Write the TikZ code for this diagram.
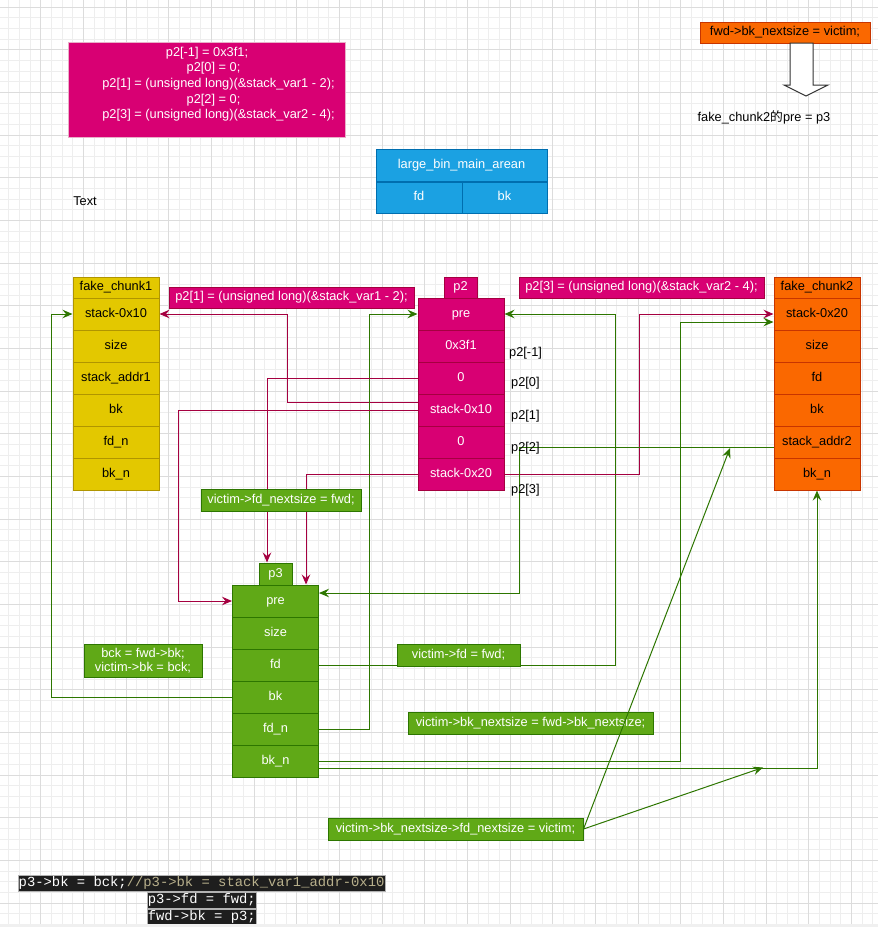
\documentclass[tikz,border=0pt]{standalone}
\usepackage{fontspec}
\setmainfont{Liberation Sans}
\setmonofont{Liberation Mono}
\newfontfamily\cjk{Noto Sans CJK SC}
\usetikzlibrary{arrows.meta,calc}
\definecolor{magF}{HTML}{D80073}\definecolor{magD}{HTML}{A50040}
\definecolor{magL}{HTML}{E8B0C8}
\definecolor{yelF}{HTML}{E3C800}\definecolor{yelD}{HTML}{B09500}
\definecolor{orgF}{HTML}{FA6800}\definecolor{orgD}{HTML}{C73500}
\definecolor{grnF}{HTML}{60A917}\definecolor{grnD}{HTML}{2D7600}
\definecolor{bluF}{HTML}{1BA1E2}\definecolor{bluD}{HTML}{006EAF}
\definecolor{codebg}{HTML}{1E1E1E}\definecolor{cmt}{HTML}{B8B08C}
\definecolor{gmin}{HTML}{EEEEEE}\definecolor{gmaj}{HTML}{DCDCDC}
\newcommand\dfont{\fontsize{12.8}{15}\selectfont}
\pgfdeclarelayer{bg}\pgfdeclarelayer{edges}\pgfdeclarelayer{front}
\pgfsetlayers{bg,edges,main,front}
\tikzset{
  cell/.style={draw, rectangle, inner sep=0pt, minimum width=86pt, minimum height=32pt,
    line width=1pt, font=\dfont, text height=9.2pt, text depth=2.6pt},
  yel/.style={cell, fill=yelF, draw=yelD, text=black},
  mag/.style={cell, fill=magF, draw=magD, text=white},
  org/.style={cell, fill=orgF, draw=orgD, text=black},
  grn/.style={cell, fill=grnF, draw=grnD, text=white},
  blu/.style={cell, fill=bluF, draw=bluD, text=white},
  hdr/.style={minimum height=21pt},
  plain/.style={inner sep=0pt, font=\dfont, text=black, text height=9.2pt, text depth=2.6pt},
  code/.style={fill=codebg, draw=gray!60, line width=0.5pt, inner xsep=0.5pt, inner ysep=0pt,
    text height=11.5pt, text depth=4pt, font=\ttfamily\fontsize{13.85}{16}\selectfont, text=white},
  arr/.style={-{Stealth[length=10pt,width=8.5pt,inset=3.5pt]}},
  mline/.style={draw=magD, line width=1pt, arr},
  gline/.style={draw=grnD, line width=1pt, arr},
  gplain/.style={draw=grnD, line width=1pt}
}
\begin{document}
\begin{tikzpicture}[x=1pt,y=-1pt]
\useasboundingbox (0,0) rectangle (878,927);
\begin{pgfonlayer}{bg}
\fill[white] (0,0) rectangle (878,927);
\foreach \i in {0,...,82} \draw[gmin, line width=0.8pt] ({8.6+\i*10.667},0) -- ({8.6+\i*10.667},927);
\foreach \i in {0,...,87} \draw[gmin, line width=0.8pt] (0,{-3.77+\i*10.667}) -- (878,{-3.77+\i*10.667});
\foreach \i in {0,...,21} \draw[gmaj, line width=0.8pt] ({-2.07+\i*42.667},0) -- ({-2.07+\i*42.667},927);
\foreach \i in {0,...,22} \draw[gmaj, line width=0.8pt] (0,{6.9+\i*42.667}) -- (878,{6.9+\i*42.667});
\end{pgfonlayer}

% top-left code box
\node[mag, draw=magL, minimum width=277pt, minimum height=95pt] (tl) at (206.5,89.5) {};
\node[plain, text=white] (tl1) at (207,53) {p2[-1] = 0x3f1;};
\node[plain, text=white] (tl2) at (213.5,68.5) {p2[0] = 0;};
\node[plain, text=white] (tl3) at (218.5,84) {p2[1] = (unsigned long)(\&stack\_var1 - 2);};
\node[plain, text=white] (tl4) at (213.5,100) {p2[2] = 0;};
\node[plain, text=white] (tl5) at (218.5,115.5) {p2[3] = (unsigned long)(\&stack\_var2 - 4);};

% top-right
\node[org, minimum width=170pt, minimum height=21pt] (fbk) at (785,32.5) {fwd->bk\_nextsize = victim;};
\draw[fill=white, draw=black!80, line width=1pt] (790,43) -- (813,43) -- (813,85) -- (828,85) -- (806,96) -- (784,85) -- (790,85) -- cycle;
\node[plain] (fc2pre) at (764,118) {fake\_chunk2{\cjk 的}pre = p3};

% large bin
\node[blu, minimum width=171pt] (lb) at (461.5,165.5) {large\_bin\_main\_arean};
\node[blu, minimum height=31pt] (lbfd) at (419,197.5) {fd};
\node[blu, minimum width=85pt, minimum height=31pt] (lbbk) at (504.5,197.5) {bk};

\node[plain] (txt) at (85,202) {Text};

% fake_chunk1
\node[yel, hdr] (fc1h) at (116,287.5) {fake\_chunk1};
\node[yel] (fc1r1) at (116,314) {stack-0x10};
\node[yel] (fc1r2) at (116,346) {size};
\node[yel] (fc1r3) at (116,378) {stack\_addr1};
\node[yel] (fc1r4) at (116,410) {bk};
\node[yel] (fc1r5) at (116,442) {fd\_n};
\node[yel] (fc1r6) at (116,474) {bk\_n};

% p2
\node[mag, hdr, minimum width=33pt] (p2h) at (460.5,287.5) {p2};
\node[mag] (p2r1) at (461,314) {pre};
\node[mag] (p2r2) at (461,346) {0x3f1};
\node[mag] (p2r3) at (461,378) {0};
\node[mag] (p2r4) at (461,410) {stack-0x10};
\node[mag] (p2r5) at (461,442) {0};
\node[mag] (p2r6) at (461,474) {stack-0x20};
\node[plain, anchor=west] (i1) at (509,353) {p2[-1]};
\node[plain, anchor=west] (i2) at (511,383.5) {p2[0]};
\node[plain, anchor=west] (i3) at (511,416) {p2[1]};
\node[plain, anchor=west] (i4) at (511,448) {p2[2]};
\node[plain, anchor=west] (i5) at (511,490) {p2[3]};

% fake_chunk2
\node[org, hdr] (fc2h) at (817,287.5) {fake\_chunk2};
\node[org] (fc2r1) at (817,314) {stack-0x20};
\node[org] (fc2r2) at (817,346) {size};
\node[org] (fc2r3) at (817,378) {fd};
\node[org] (fc2r4) at (817,410) {bk};
\node[org] (fc2r5) at (817,442) {stack\_addr2};
\node[org] (fc2r6) at (817,474) {bk\_n};

% p3
\node[grn, minimum width=33pt, minimum height=22pt] (p3h) at (275.5,574) {p3};
\node[grn] (p3r1) at (275.5,601) {pre};
\node[grn] (p3r2) at (275.5,633) {size};
\node[grn] (p3r3) at (275.5,665) {fd};
\node[grn] (p3r4) at (275.5,697) {bk};
\node[grn] (p3r5) at (275.5,729) {fd\_n};
\node[grn] (p3r6) at (275.5,761) {bk\_n};

% labels
\node[mag, minimum width=245pt, minimum height=21pt] (lab1) at (291.5,297.5) {p2[1] = (unsigned long)(\&stack\_var1 - 2);};
\node[mag, minimum width=245pt, minimum height=21pt] (lab2) at (641.5,287.5) {p2[3] = (unsigned long)(\&stack\_var2 - 4);};
\node[grn, minimum width=160pt, minimum height=22pt] (lab3) at (281,500) {victim->fd\_nextsize = fwd;};
\node[grn, minimum width=118pt, minimum height=33pt, align=center, text height=, text depth=, font=\fontsize{12.8}{14}\selectfont] (lab4) at (143,660.5) {bck = fwd->bk;\\victim->bk = bck;};
\node[grn, minimum width=123pt, minimum height=22pt] (lab5) at (458.5,655) {victim->fd = fwd;};
\node[grn, minimum width=245pt, minimum height=22pt] (lab6) at (530.5,723) {victim->bk\_nextsize = fwd->bk\_nextsize;};
\node[grn, minimum width=255pt, minimum height=22pt] (lab7) at (455.5,829) {victim->bk\_nextsize->fd\_nextsize = victim;};

% code
\node[code, anchor=west] (c1) at (18,883) {p3->bk = bck;\textcolor{cmt}{//p3->bk = stack\_var1\_addr-0x10}};
\node[code, anchor=west] (c2) at (147,900) {p3->fd = fwd;};
\node[code, anchor=west] (c3) at (147,917) {fwd->bk = p3;};

\coordinate (t1) at (763,767.5);
\coordinate (t2) at (730,448);

\begin{pgfonlayer}{edges}
\draw[gline] (p3r4.west) -- ++(-181,0) |- (fc1r1.west);
\draw[mline] ($(p2r4.west)+(0,-8)$) -- ++(-130,0) |- (fc1r1.east);
\draw[gline] (p3r5.east) -- ++(50,0) |- (p2r1.west);
\draw[gline] (p3r3.east) -- ++(296,0) |- (p2r1.east);
\draw[mline] (p2r6.east) -- ++(135,0) |- (fc2r1.west);
\draw[gline] (p3r6.east) -- ++(361,0) |- ($(fc2r1.west)+(0,8)$);
\draw[gline] ($(p3r6.east)+(0,7)$) -| (fc2r6.south);
\draw[gline] ($(fc2r5.west)+(0,5)$) -- ++(-254,0) |- ($(p3r1.east)+(0,-8)$);
\draw[mline] (p2r3.west) -| ($(p3h.north)+(-8.5,0)$);
\draw[mline] (p2r4.west) -- ++(-239,0) |- (p3r1.west);
\draw[mline] (p2r6.west) -| ($(p3r1.north)+(30.5,0)$);
\end{pgfonlayer}

\begin{pgfonlayer}{front}
\draw[gline] (lab7.east) -- (t1);
\draw[gline] (lab7.east) -- (t2);
\fill[gray!12] (0,923.5) rectangle (878,927);
\end{pgfonlayer}
\end{tikzpicture}
\end{document}
